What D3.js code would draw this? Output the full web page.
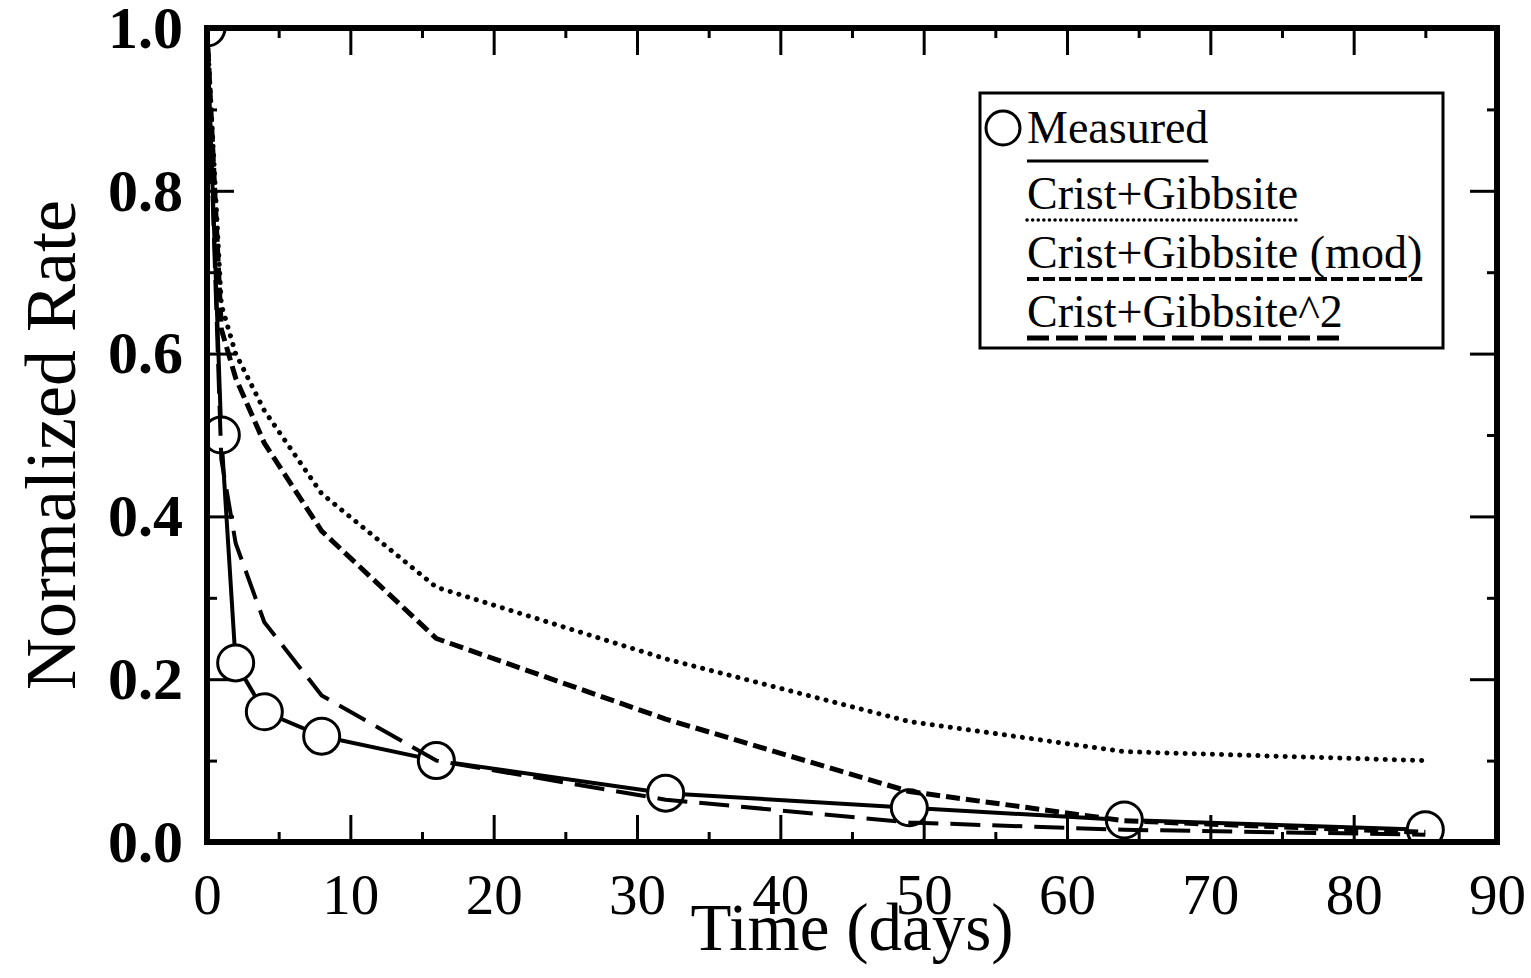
<!doctype html>
<html lang="en">
<head>
  <meta charset="utf-8">
  <title>Normalized Rate vs Time</title>
  <script src="https://cdn.jsdelivr.net/npm/d3@7"></script>
  <style>
    body { margin: 0; background: #fff; }
    text { font-family: "Liberation Serif", "Times New Roman", serif; fill: #000; }
  </style>
</head>
<body>
  <svg id="chart" width="1531" height="978"></svg>
  <script>
    // values
    var days = [0, 1, 2, 4, 8, 16, 32, 49, 64, 85];
    var measured = [1.0, 0.50, 0.22, 0.16, 0.13, 0.10, 0.06, 0.042, 0.027, 0.015];
    var cristGibbsite = [1.0, 0.66, 0.60, 0.53, 0.428, 0.313, 0.225, 0.148, 0.111, 0.100];
    var cristGibbsiteMod = [1.0, 0.63, 0.57, 0.49, 0.382, 0.25, 0.151, 0.062, 0.026, 0.012];
    var cristGibbsiteSq = [1.0, 0.47, 0.367, 0.27, 0.18, 0.10, 0.052, 0.024, 0.015, 0.009];
    var xTicks = [0, 10, 20, 30, 40, 50, 60, 70, 80, 90];
    var yTicks = [0, 0.2, 0.4, 0.6, 0.8, 1.0];
    var legendLabels = ["Measured", "Crist+Gibbsite", "Crist+Gibbsite (mod)", "Crist+Gibbsite^2"];

    var svg = d3.select("#chart");
    var plotL = 207, plotR = 1497, plotT = 28, plotB = 842; // "top" is taken by window.top

    var x = d3.scaleLinear().domain([0, 90]).range([plotL, plotR]);
    var y = d3.scaleLinear().domain([0, 1]).range([plotB, plotT]);

    // line styles: measured solid, then the three model curves
    var styles = [
      {width: 4, dash: null, cap: "butt"},
      {width: 5, dash: "0.1 9", cap: "round"},
      {width: 5, dash: "14 6", cap: "butt"},
      {width: 4, dash: "30 12", cap: "butt"}
    ];
    var legendStyles = [
      {width: 3, dash: null, cap: "butt"},
      {width: 3.5, dash: "0.1 5.5", cap: "round"},
      {width: 4, dash: "12 4", cap: "butt"},
      {width: 5, dash: "22 7", cap: "butt"}
    ];

    svg.append("clipPath").attr("id", "plot")
      .append("rect")
        .attr("x", plotL).attr("y", plotT)
        .attr("width", plotR - plotL).attr("height", plotB - plotT);

    // ticks on all four sides, pointing inward
    function ticks(axis, g) {
      g.call(axis);
      g.select(".domain").remove();
      g.selectAll(".tick line").attr("stroke-width", 3);
      g.selectAll(".tick text")
        .style("font-family", "'Liberation Serif', 'Times New Roman', serif");
    }
    var minorX = d3.range(5, 90, 10);
    var minorY = [0.1, 0.3, 0.5, 0.7, 0.9];

    svg.append("g").attr("transform", "translate(0," + plotB + ")")
      .call(g => ticks(d3.axisBottom(x).tickValues(xTicks).tickSize(-27).tickPadding(32)
        .tickFormat(d3.format("d")), g))
      .selectAll(".tick text").style("font-size", "57px");
    svg.append("g").attr("transform", "translate(0," + plotB + ")")
      .call(g => ticks(d3.axisBottom(x).tickValues(minorX).tickSize(-10).tickFormat(""), g));
    svg.append("g").attr("transform", "translate(0," + plotT + ")")
      .call(g => ticks(d3.axisTop(x).tickValues(xTicks).tickSize(-27).tickFormat(""), g));
    svg.append("g").attr("transform", "translate(0," + plotT + ")")
      .call(g => ticks(d3.axisTop(x).tickValues(minorX).tickSize(-10).tickFormat(""), g));

    svg.append("g").attr("transform", "translate(" + plotL + ",0)")
      .call(g => ticks(d3.axisLeft(y).tickValues(yTicks).tickSize(-27).tickPadding(24)
        .tickFormat(d3.format(".1f")), g))
      .selectAll(".tick text").style("font-size", "60px").style("font-weight", "bold");
    svg.append("g").attr("transform", "translate(" + plotL + ",0)")
      .call(g => ticks(d3.axisLeft(y).tickValues(minorY).tickSize(-10).tickFormat(""), g));
    svg.append("g").attr("transform", "translate(" + plotR + ",0)")
      .call(g => ticks(d3.axisRight(y).tickValues(yTicks).tickSize(-27).tickFormat(""), g));
    svg.append("g").attr("transform", "translate(" + plotR + ",0)")
      .call(g => ticks(d3.axisRight(y).tickValues(minorY).tickSize(-10).tickFormat(""), g));

    var line = d3.line().x(d => x(d[0])).y(d => y(d[1]));
    var plot = svg.append("g").attr("clip-path", "url(#plot)");

    function drawSeries(values, st) {
      plot.append("path")
        .datum(days.map((t, i) => [t, values[i]]))
        .attr("d", line)
        .attr("fill", "none")
        .attr("stroke", "#000")
        .attr("stroke-width", st.width)
        .attr("stroke-dasharray", st.dash)
        .attr("stroke-linecap", st.cap)
        .attr("stroke-linejoin", "round");
    }

    drawSeries(measured, styles[0]);
    plot.selectAll("circle")
      .data(days.map((t, i) => [t, measured[i]]))
      .enter()
      .append("circle")
        .attr("cx", d => x(d[0]))
        .attr("cy", d => y(d[1]))
        .attr("r", 18)
        .attr("fill", "#fff")
        .attr("stroke", "#000")
        .attr("stroke-width", 3);
    drawSeries(cristGibbsite, styles[1]);
    drawSeries(cristGibbsiteMod, styles[2]);
    drawSeries(cristGibbsiteSq, styles[3]);

    // frame
    svg.append("rect")
      .attr("x", plotL).attr("y", plotT)
      .attr("width", plotR - plotL).attr("height", plotB - plotT)
      .attr("fill", "none").attr("stroke", "#000").attr("stroke-width", 6);

    // axis titles
    svg.append("text")
      .attr("x", (plotL + plotR) / 2).attr("y", 950)
      .attr("text-anchor", "middle")
      .style("font-size", "67px")
      .text("Time (days)");
    svg.append("text")
      .attr("transform", "translate(75," + ((plotT + plotB) / 2 + 10) + ") rotate(-90)")
      .attr("text-anchor", "middle")
      .style("font-size", "72px")
      .text("Normalized Rate");

    // legend
    var legend = svg.append("g");
    legend.append("rect")
      .attr("x", 980).attr("y", 93).attr("width", 463).attr("height", 255)
      .attr("fill", "#fff").attr("stroke", "#000").attr("stroke-width", 3);
    legend.append("circle")
      .attr("cx", 1003).attr("cy", 128).attr("r", 17)
      .attr("fill", "#fff").attr("stroke", "#000").attr("stroke-width", 3);

    legendLabels.forEach((label, i) => {
      var lineY = 161 + i * 59;
      var baseY = i === 0 ? 143 : lineY - 11;
      var t = legend.append("text")
        .attr("x", 1027).attr("y", baseY)
        .style("font-size", "46px")
        .text(label);
      var w = t.node().getComputedTextLength();
      var st = legendStyles[i];
      legend.append("line")
        .attr("x1", 1027).attr("x2", 1027 + w)
        .attr("y1", lineY).attr("y2", lineY)
        .attr("stroke", "#000")
        .attr("stroke-width", st.width)
        .attr("stroke-dasharray", st.dash)
        .attr("stroke-linecap", st.cap);
    });
  </script>
</body>
</html>
